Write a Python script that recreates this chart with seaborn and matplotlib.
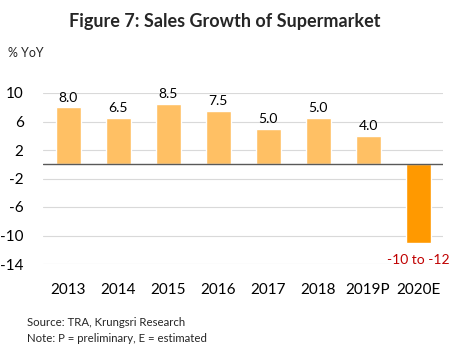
import matplotlib
matplotlib.use("Agg")
import matplotlib.pyplot as plt
import seaborn as sns
import pandas as pd

# values
years = ["2013", "2014", "2015", "2016", "2017", "2018", "2019P", "2020E"]
bar_heights = [8.0, 6.5, 8.5, 7.5, 5.0, 6.5, 4.0, -11.0]
bar_labels = ["8.0", "6.5", "8.5", "7.5", "5.0", "5.0", "4.0", "-10 to -12"]
y_ticks = [10, 6, 2, -2, -6, -10, -14]

light = "#FFC064"
dark = "#FF9900"
colors = [light] * 7 + [dark]

sns.set_style("white")
plt.rcParams["font.family"] = ["Lato", "DejaVu Sans"]

df = pd.DataFrame({"Year": years, "Growth": bar_heights})

fig = plt.figure(figsize=(4.51, 3.53), dpi=100)
ax = fig.add_axes([43 / 451, 1 - 264 / 353, 400 / 451, 171 / 353])

sns.barplot(data=df, x="Year", y="Growth", hue="Year", palette=colors,
            legend=False, width=0.5, ax=ax, saturation=1)

ax.set_ylim(-14, 10)
ax.set_xlim(-0.5, 7.5)
ax.set_yticks(y_ticks)
ax.set_yticklabels([str(t) for t in y_ticks])
ax.grid(axis="y", color="#D9D9D9", linewidth=0.8)
ax.set_axisbelow(True)
ax.axhline(0, color="#595959", linewidth=1.0)
for s in ax.spines.values():
    s.set_visible(False)
ax.tick_params(axis="both", length=0, labelsize=11, colors="#000000")
ax.tick_params(axis="y", pad=14)
ax.tick_params(axis="x", pad=14)
ax.set_xlabel("")
ax.set_ylabel("")

for i, (h, lab) in enumerate(zip(bar_heights, bar_labels)):
    if h >= 0:
        ax.text(i, h + 0.5, lab, ha="center", va="bottom", fontsize=10,
                color="#000000", clip_on=False)
    else:
        ax.text(i, h - 1.6, lab, ha="center", va="top", fontsize=10,
                color="#C00000", clip_on=False)

fig.text(225 / 451, 1 - 21 / 353, "Figure 7: Sales Growth of Supermarket",
         ha="center", va="center", fontsize=13, fontweight="bold")
fig.text(8 / 451, 1 - 53 / 353, "% YoY", ha="left", va="center", fontsize=9)
fig.text(27 / 451, 1 - 323 / 353, "Source: TRA, Krungsri Research",
         ha="left", va="center", fontsize=8.2)
fig.text(27 / 451, 1 - 338 / 353, "Note: P = preliminary, E = estimated",
         ha="left", va="center", fontsize=8.2)

fig.savefig("out.png", dpi=100)
